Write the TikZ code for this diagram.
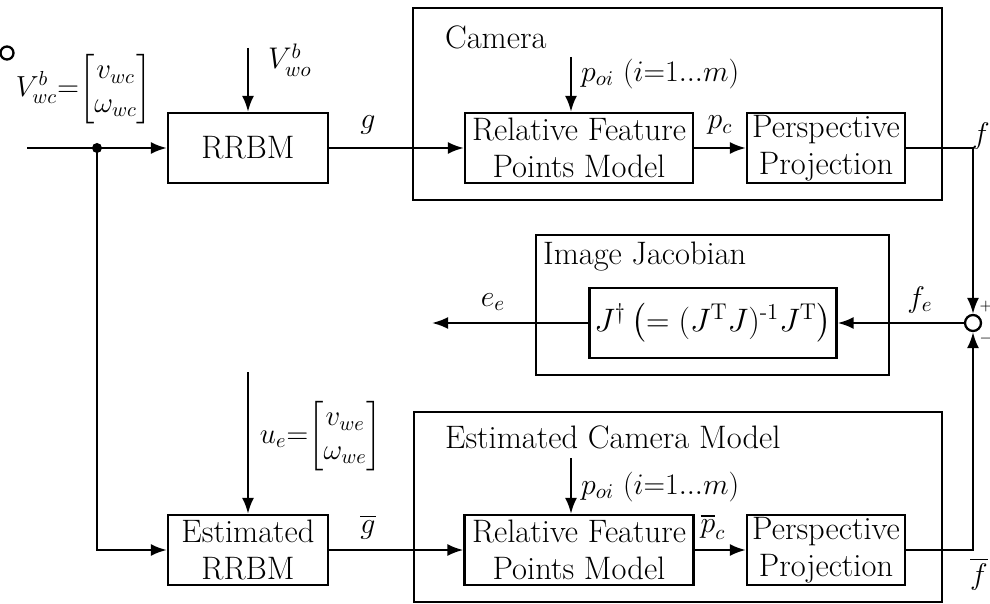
\RequirePackage{fix-cm}
\documentclass[tikz,border=0pt]{standalone}
\usepackage{amsmath,amssymb}
\usepackage{tikz}
\usetikzlibrary{arrows.meta, positioning}

\begin{document}
\begin{tikzpicture}[x=0.02cm, y=-0.02cm,
      blk/.style={draw, line width=1.3pt, minimum height=1.4cm, align=center,
                  inner sep=0pt, font=\fontsize{18.5}{21}\selectfont},
      grp/.style={draw, line width=1.3pt},
      ttl/.style={font=\fontsize{18.5}{21}\selectfont, inner sep=1pt},
      lbl/.style={font=\fontsize{17}{20}\selectfont, inner sep=1pt},
      vec/.style={font=\fontsize{16.5}{19}\selectfont, inner sep=1pt},
      ln/.style={line width=1.3pt},
      arr/.style={line width=1.3pt, -{Latex[length=3.2mm, width=2.4mm]}}]

    \useasboundingbox (0,0) rectangle (990,604);

    % ===== Forward path =====
    \node[circle, draw, line width=1.3pt, minimum size=0.26cm, inner sep=0pt] (stray) at (7,53) {};
    \coordinate (in) at (27,148);
    \coordinate (split) at (97,148);
    \node[blk, minimum width=3.2cm] (rrbm) at (248,148) {RRBM};
    \coordinate (vwo) at (248,48);
    \node[lbl, anchor=west] (vwolbl) at (266,60) {$V^b_{wo}$};
    \node[vec] (vwclbl) at (84,89)
        {$V^b_{wc}{=}\!\begin{bmatrix} v_{wc}\\ \omega_{wc}\end{bmatrix}$};
    \node[lbl] (glbl) at (368,125) {$g$};

    % ===== Camera =====
    \draw[grp] (413,8) rectangle (942,200);
    \node[ttl, anchor=west] (camlbl) at (443,37) {Camera};
    \node[blk, minimum width=4.56cm] (rfpm) at (579,148) {Relative Feature\\Points Model};
    \node[blk, minimum width=3.16cm] (pp) at (826,148) {Perspective\\Projection};
    \coordinate (poi) at (571,57);
    \node[lbl, anchor=west] (poilbl) at (579,74) {$p_{oi}$ $(i{=}1...m)$};
    \node[lbl] (pclbl) at (720,125) {$p_c$};
    \node[lbl] (flbl) at (981,136) {$f$};

    % ===== Image Jacobian =====
    \draw[grp] (536,235) rectangle (889,375);
    \node[ttl, anchor=west] (ijlbl) at (541,257) {Image Jacobian};
    \node[blk, minimum width=4.94cm] (jac) at (713,323)
        {$J^\dagger\left(=(J^{\mathrm{T}}J)^{\text{-}1}J^{\mathrm{T}}\right)$};
    \node[circle, draw, line width=1.3pt, minimum size=0.32cm, inner sep=0pt] (sum) at (973,323) {};
    \node[lbl] (felbl) at (920,300) {$f_e$};
    \coordinate (eout) at (432,323);
    \node[lbl] (eelbl) at (493,302) {$e_e$};
    \node[font=\fontsize{9}{10}\selectfont, inner sep=0pt] (plus) at (986,307) {$+$};
    \node[font=\fontsize{9}{10}\selectfont, inner sep=0pt] (minus) at (986,339) {$-$};

    % ===== Estimated path =====
    \node[blk, minimum width=3.2cm] (errbm) at (248,550) {Estimated\\RRBM};
    \coordinate (ue) at (248,372);
    \node[vec] (uelbl) at (321,436)
        {$u_e{=}\!\begin{bmatrix} v_{we}\\ \omega_{we}\end{bmatrix}$};
    \node[lbl] (gbarlbl) at (368,527) {$\overline{g}$};

    % ===== Estimated Camera Model =====
    \draw[grp] (414,412) rectangle (942,602);
    \node[ttl, anchor=west] (ecmlbl) at (443,437) {Estimated Camera Model};
    \node[blk, minimum width=4.58cm] (rfpm2) at (579,550) {Relative Feature\\Points Model};
    \node[blk, minimum width=3.16cm] (pp2) at (826,550) {Perspective\\Projection};
    \coordinate (poi2) at (571,458);
    \node[lbl, anchor=west] (poi2lbl) at (579,487) {$p_{oi}$ $(i{=}1...m)$};
    \node[lbl] (pcbarlbl) at (713,527) {$\overline{p}_c$};
    \node[lbl] (fbarlbl) at (979,574) {$\overline{f}$};

    % ===== Connectors =====
    \draw[ln] (in) -- (split);
    \fill (split) circle (5);
    \draw[arr] (split) -- (rrbm);
    \draw[arr] (split) |- (errbm);
    \draw[arr] (vwo) -- (rrbm);
    \draw[arr] (rrbm) -- (rfpm);
    \draw[arr] (poi) -- (poi |- rfpm.north);
    \draw[arr] (rfpm) -- (pp);
    \draw[arr] (pp) -| (sum);
    \draw[arr] (sum) -- (jac);
    \draw[arr] (jac) -- (eout);
    \draw[arr] (ue) -- (errbm);
    \draw[arr] (errbm) -- (rfpm2);
    \draw[arr] (poi2) -- (poi2 |- rfpm2.north);
    \draw[arr] (rfpm2) -- (pp2);
    \draw[arr] (pp2) -| (sum);

\end{tikzpicture}
\end{document}
